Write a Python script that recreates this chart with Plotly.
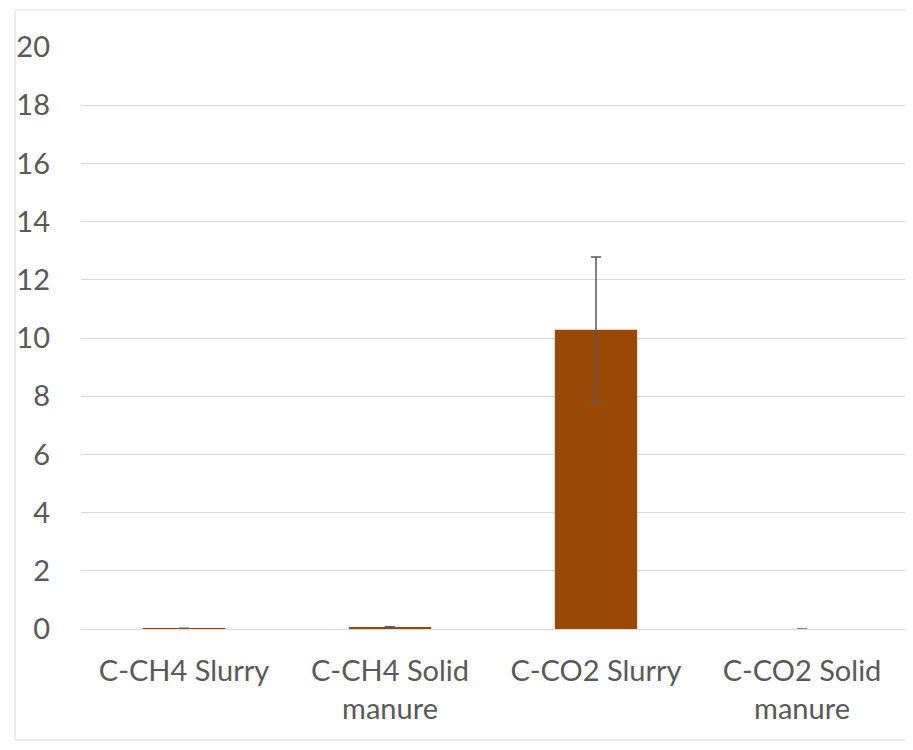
import plotly.graph_objects as go

categories = ["C-CH4 Slurry", "C-CH4 Solid<br>manure", "C-CO2 Slurry", "C-CO2 Solid<br>manure"]
values = [0.015, 0.06, 10.28, 0.0]
errors = [0.01, 0.02, 2.5, None]
y_ticks = [0, 2, 4, 6, 8, 10, 12, 14, 16, 18, 20]

bar_color = "#9A4806"
text_color = "#595959"
grid_color = "#D9D9D9"
font_family = "Lato"
font_size = 29

fig = go.Figure()
fig.add_trace(go.Bar(
    x=categories,
    y=values,
    marker=dict(color=bar_color, line=dict(width=0)),
    error_y=dict(type="data", array=errors, visible=True,
                 color="#5A5A5A", thickness=1.5, width=5),
    showlegend=False,
))

fig.update_layout(
    width=905,
    height=742,
    paper_bgcolor="white",
    plot_bgcolor="white",
    margin=dict(l=67, r=8, t=39, b=121),
    bargap=0.6,
    font=dict(family=font_family, size=font_size, color=text_color),
    xaxis=dict(
        showgrid=False,
        showline=False,
        zeroline=False,
        ticks="",
        tickfont=dict(family=font_family, size=font_size, color=text_color),
        ticklabelstandoff=22,
    ),
    yaxis=dict(
        range=[0, 20],
        tickvals=y_ticks,
        showgrid=True,
        gridcolor=grid_color,
        gridwidth=1,
        zeroline=True,
        zerolinecolor=grid_color,
        zerolinewidth=1,
        showline=False,
        ticks="",
        tickfont=dict(family=font_family, size=font_size, color=text_color),
        ticklabelstandoff=30,
    ),
    shapes=[dict(
        type="rect", xref="paper", yref="paper",
        x0=-66.5 / 830, x1=831 / 830, y0=-111 / 582, y1=1 + 37 / 582,
        line=dict(color=grid_color, width=1), fillcolor="rgba(0,0,0,0)",
        layer="below",
    )],
)

fig.write_html("out.html")
